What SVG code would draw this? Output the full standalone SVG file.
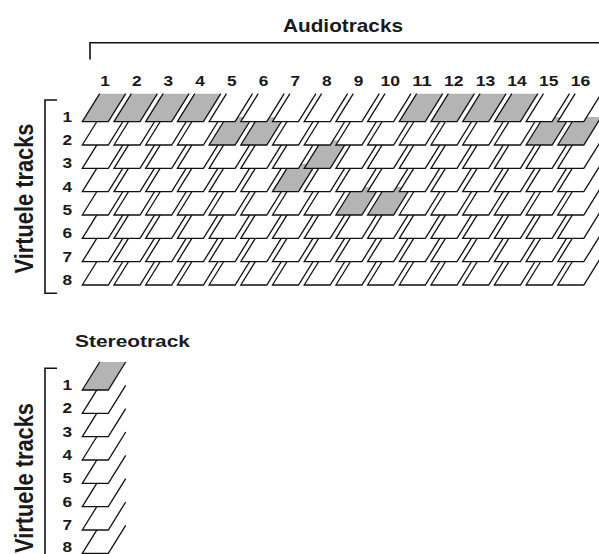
<svg xmlns="http://www.w3.org/2000/svg" xmlns:xlink="http://www.w3.org/1999/xlink" width="599" height="554" viewBox="0 0 599 554">
<style>
  text { font-family: "Liberation Sans", Arial, Helvetica, sans-serif; font-weight: bold; fill: #1a1a1a; }
  .head { font-size: 18.5px; }
  .vhead { font-size: 26px; }
  .num { font-size: 15.5px; text-anchor: middle; }
  .w { fill: #ffffff; stroke: #111; stroke-width: 1.3; stroke-linejoin: miter; }
  .g { fill: #b4b4b4; stroke: #111; stroke-width: 1.3; stroke-linejoin: miter; }
  .br { fill: none; stroke: #111; stroke-width: 1.6; }
</style>
<defs>
  <path id="card" d="M17.4,-28 L0,0 L26,0 L43.4,-28"/>
</defs>
<rect width="599" height="554" fill="#ffffff"/>

<g id="connectors">
  <path class="br" d="M90,59.5 V42.7 H599"/>
  <path class="br" d="M57,100 H45 V293.3 H57"/>
  <path class="br" d="M57,368.3 H45 V554"/>
</g>

<g id="title-audiotracks">
  <text class="head" x="343" y="31.7" text-anchor="middle" textLength="120" lengthAdjust="spacingAndGlyphs">Audiotracks</text>
</g>
<g id="label-virtual-top">
  <text class="vhead" transform="translate(32.5,198.5) rotate(-90)" text-anchor="middle" textLength="150" lengthAdjust="spacingAndGlyphs">Virtuele tracks</text>
</g>

<g id="column-labels">
  <text class="num" x="105" y="85.5" textLength="9.6" lengthAdjust="spacingAndGlyphs">1</text>
  <text class="num" x="136.7" y="85.5" textLength="9.6" lengthAdjust="spacingAndGlyphs">2</text>
  <text class="num" x="168.4" y="85.5" textLength="9.6" lengthAdjust="spacingAndGlyphs">3</text>
  <text class="num" x="200.1" y="85.5" textLength="9.6" lengthAdjust="spacingAndGlyphs">4</text>
  <text class="num" x="231.8" y="85.5" textLength="9.6" lengthAdjust="spacingAndGlyphs">5</text>
  <text class="num" x="263.5" y="85.5" textLength="9.6" lengthAdjust="spacingAndGlyphs">6</text>
  <text class="num" x="295.2" y="85.5" textLength="9.6" lengthAdjust="spacingAndGlyphs">7</text>
  <text class="num" x="326.9" y="85.5" textLength="9.6" lengthAdjust="spacingAndGlyphs">8</text>
  <text class="num" x="358.6" y="85.5" textLength="9.6" lengthAdjust="spacingAndGlyphs">9</text>
  <text class="num" x="390.3" y="85.5" textLength="19.5" lengthAdjust="spacingAndGlyphs">10</text>
  <text class="num" x="422" y="85.5" textLength="19.5" lengthAdjust="spacingAndGlyphs">11</text>
  <text class="num" x="453.7" y="85.5" textLength="19.5" lengthAdjust="spacingAndGlyphs">12</text>
  <text class="num" x="485.4" y="85.5" textLength="19.5" lengthAdjust="spacingAndGlyphs">13</text>
  <text class="num" x="517.1" y="85.5" textLength="19.5" lengthAdjust="spacingAndGlyphs">14</text>
  <text class="num" x="548.8" y="85.5" textLength="19.5" lengthAdjust="spacingAndGlyphs">15</text>
  <text class="num" x="580.5" y="85.5" textLength="19.5" lengthAdjust="spacingAndGlyphs">16</text>
</g>

<g id="row-labels">
  <text class="num" x="67.3" y="121.7" textLength="9.6" lengthAdjust="spacingAndGlyphs">1</text>
  <text class="num" x="67.3" y="145" textLength="9.6" lengthAdjust="spacingAndGlyphs">2</text>
  <text class="num" x="67.3" y="168.4" textLength="9.6" lengthAdjust="spacingAndGlyphs">3</text>
  <text class="num" x="67.3" y="191.7" textLength="9.6" lengthAdjust="spacingAndGlyphs">4</text>
  <text class="num" x="67.3" y="215" textLength="9.6" lengthAdjust="spacingAndGlyphs">5</text>
  <text class="num" x="67.3" y="238.3" textLength="9.6" lengthAdjust="spacingAndGlyphs">6</text>
  <text class="num" x="67.3" y="261.7" textLength="9.6" lengthAdjust="spacingAndGlyphs">7</text>
  <text class="num" x="67.3" y="285" textLength="9.6" lengthAdjust="spacingAndGlyphs">8</text>
</g>

<g id="row8">
  <use xlink:href="#card" class="w" x="82.3" y="285"/><use xlink:href="#card" class="w" x="114" y="285"/><use xlink:href="#card" class="w" x="145.7" y="285"/><use xlink:href="#card" class="w" x="177.4" y="285"/><use xlink:href="#card" class="w" x="209.1" y="285"/><use xlink:href="#card" class="w" x="240.8" y="285"/><use xlink:href="#card" class="w" x="272.5" y="285"/><use xlink:href="#card" class="w" x="304.2" y="285"/><use xlink:href="#card" class="w" x="335.9" y="285"/><use xlink:href="#card" class="w" x="367.6" y="285"/><use xlink:href="#card" class="w" x="399.3" y="285"/><use xlink:href="#card" class="w" x="431" y="285"/><use xlink:href="#card" class="w" x="462.7" y="285"/><use xlink:href="#card" class="w" x="494.4" y="285"/><use xlink:href="#card" class="w" x="526.1" y="285"/><use xlink:href="#card" class="w" x="557.8" y="285"/>
</g>
<g id="row7">
  <use xlink:href="#card" class="w" x="82.3" y="261.7"/><use xlink:href="#card" class="w" x="114" y="261.7"/><use xlink:href="#card" class="w" x="145.7" y="261.7"/><use xlink:href="#card" class="w" x="177.4" y="261.7"/><use xlink:href="#card" class="w" x="209.1" y="261.7"/><use xlink:href="#card" class="w" x="240.8" y="261.7"/><use xlink:href="#card" class="w" x="272.5" y="261.7"/><use xlink:href="#card" class="w" x="304.2" y="261.7"/><use xlink:href="#card" class="w" x="335.9" y="261.7"/><use xlink:href="#card" class="w" x="367.6" y="261.7"/><use xlink:href="#card" class="w" x="399.3" y="261.7"/><use xlink:href="#card" class="w" x="431" y="261.7"/><use xlink:href="#card" class="w" x="462.7" y="261.7"/><use xlink:href="#card" class="w" x="494.4" y="261.7"/><use xlink:href="#card" class="w" x="526.1" y="261.7"/><use xlink:href="#card" class="w" x="557.8" y="261.7"/>
</g>
<g id="row6">
  <use xlink:href="#card" class="w" x="82.3" y="238.3"/><use xlink:href="#card" class="w" x="114" y="238.3"/><use xlink:href="#card" class="w" x="145.7" y="238.3"/><use xlink:href="#card" class="w" x="177.4" y="238.3"/><use xlink:href="#card" class="w" x="209.1" y="238.3"/><use xlink:href="#card" class="w" x="240.8" y="238.3"/><use xlink:href="#card" class="w" x="272.5" y="238.3"/><use xlink:href="#card" class="w" x="304.2" y="238.3"/><use xlink:href="#card" class="w" x="335.9" y="238.3"/><use xlink:href="#card" class="w" x="367.6" y="238.3"/><use xlink:href="#card" class="w" x="399.3" y="238.3"/><use xlink:href="#card" class="w" x="431" y="238.3"/><use xlink:href="#card" class="w" x="462.7" y="238.3"/><use xlink:href="#card" class="w" x="494.4" y="238.3"/><use xlink:href="#card" class="w" x="526.1" y="238.3"/><use xlink:href="#card" class="w" x="557.8" y="238.3"/>
</g>
<g id="row5">
  <use xlink:href="#card" class="w" x="82.3" y="215"/><use xlink:href="#card" class="w" x="114" y="215"/><use xlink:href="#card" class="w" x="145.7" y="215"/><use xlink:href="#card" class="w" x="177.4" y="215"/><use xlink:href="#card" class="w" x="209.1" y="215"/><use xlink:href="#card" class="w" x="240.8" y="215"/><use xlink:href="#card" class="w" x="272.5" y="215"/><use xlink:href="#card" class="w" x="304.2" y="215"/><use xlink:href="#card" class="g" x="335.9" y="215"/><use xlink:href="#card" class="g" x="367.6" y="215"/><use xlink:href="#card" class="w" x="399.3" y="215"/><use xlink:href="#card" class="w" x="431" y="215"/><use xlink:href="#card" class="w" x="462.7" y="215"/><use xlink:href="#card" class="w" x="494.4" y="215"/><use xlink:href="#card" class="w" x="526.1" y="215"/><use xlink:href="#card" class="w" x="557.8" y="215"/>
</g>
<g id="row4">
  <use xlink:href="#card" class="w" x="82.3" y="191.7"/><use xlink:href="#card" class="w" x="114" y="191.7"/><use xlink:href="#card" class="w" x="145.7" y="191.7"/><use xlink:href="#card" class="w" x="177.4" y="191.7"/><use xlink:href="#card" class="w" x="209.1" y="191.7"/><use xlink:href="#card" class="w" x="240.8" y="191.7"/><use xlink:href="#card" class="g" x="272.5" y="191.7"/><use xlink:href="#card" class="w" x="304.2" y="191.7"/><use xlink:href="#card" class="w" x="335.9" y="191.7"/><use xlink:href="#card" class="w" x="367.6" y="191.7"/><use xlink:href="#card" class="w" x="399.3" y="191.7"/><use xlink:href="#card" class="w" x="431" y="191.7"/><use xlink:href="#card" class="w" x="462.7" y="191.7"/><use xlink:href="#card" class="w" x="494.4" y="191.7"/><use xlink:href="#card" class="w" x="526.1" y="191.7"/><use xlink:href="#card" class="w" x="557.8" y="191.7"/>
</g>
<g id="row3">
  <use xlink:href="#card" class="w" x="82.3" y="168.4"/><use xlink:href="#card" class="w" x="114" y="168.4"/><use xlink:href="#card" class="w" x="145.7" y="168.4"/><use xlink:href="#card" class="w" x="177.4" y="168.4"/><use xlink:href="#card" class="w" x="209.1" y="168.4"/><use xlink:href="#card" class="w" x="240.8" y="168.4"/><use xlink:href="#card" class="w" x="272.5" y="168.4"/><use xlink:href="#card" class="g" x="304.2" y="168.4"/><use xlink:href="#card" class="w" x="335.9" y="168.4"/><use xlink:href="#card" class="w" x="367.6" y="168.4"/><use xlink:href="#card" class="w" x="399.3" y="168.4"/><use xlink:href="#card" class="w" x="431" y="168.4"/><use xlink:href="#card" class="w" x="462.7" y="168.4"/><use xlink:href="#card" class="w" x="494.4" y="168.4"/><use xlink:href="#card" class="w" x="526.1" y="168.4"/><use xlink:href="#card" class="w" x="557.8" y="168.4"/>
</g>
<g id="row2">
  <use xlink:href="#card" class="w" x="82.3" y="145"/><use xlink:href="#card" class="w" x="114" y="145"/><use xlink:href="#card" class="w" x="145.7" y="145"/><use xlink:href="#card" class="w" x="177.4" y="145"/><use xlink:href="#card" class="g" x="209.1" y="145"/><use xlink:href="#card" class="g" x="240.8" y="145"/><use xlink:href="#card" class="w" x="272.5" y="145"/><use xlink:href="#card" class="w" x="304.2" y="145"/><use xlink:href="#card" class="w" x="335.9" y="145"/><use xlink:href="#card" class="w" x="367.6" y="145"/><use xlink:href="#card" class="w" x="399.3" y="145"/><use xlink:href="#card" class="w" x="431" y="145"/><use xlink:href="#card" class="w" x="462.7" y="145"/><use xlink:href="#card" class="w" x="494.4" y="145"/><use xlink:href="#card" class="g" x="526.1" y="145"/><use xlink:href="#card" class="g" x="557.8" y="145"/>
</g>
<g id="row1">
  <use xlink:href="#card" class="g" x="82.3" y="121.7"/><use xlink:href="#card" class="g" x="114" y="121.7"/><use xlink:href="#card" class="g" x="145.7" y="121.7"/><use xlink:href="#card" class="g" x="177.4" y="121.7"/><use xlink:href="#card" class="w" x="209.1" y="121.7"/><use xlink:href="#card" class="w" x="240.8" y="121.7"/><use xlink:href="#card" class="w" x="272.5" y="121.7"/><use xlink:href="#card" class="w" x="304.2" y="121.7"/><use xlink:href="#card" class="w" x="335.9" y="121.7"/><use xlink:href="#card" class="w" x="367.6" y="121.7"/><use xlink:href="#card" class="g" x="399.3" y="121.7"/><use xlink:href="#card" class="g" x="431" y="121.7"/><use xlink:href="#card" class="g" x="462.7" y="121.7"/><use xlink:href="#card" class="g" x="494.4" y="121.7"/><use xlink:href="#card" class="w" x="526.1" y="121.7"/><use xlink:href="#card" class="w" x="557.8" y="121.7"/>
</g>

<g id="title-stereotrack">
  <text class="head" style="font-size:17px" x="132.5" y="346.7" text-anchor="middle" textLength="115" lengthAdjust="spacingAndGlyphs">Stereotrack</text>
</g>
<g id="label-virtual-bottom">
  <text class="vhead" transform="translate(32.5,478) rotate(-90)" text-anchor="middle" textLength="150" lengthAdjust="spacingAndGlyphs">Virtuele tracks</text>
</g>
<g id="stereo-row-labels">
  <text class="num" x="67.3" y="390" textLength="9.6" lengthAdjust="spacingAndGlyphs">1</text>
  <text class="num" x="67.3" y="413.3" textLength="9.6" lengthAdjust="spacingAndGlyphs">2</text>
  <text class="num" x="67.3" y="436.7" textLength="9.6" lengthAdjust="spacingAndGlyphs">3</text>
  <text class="num" x="67.3" y="460" textLength="9.6" lengthAdjust="spacingAndGlyphs">4</text>
  <text class="num" x="67.3" y="483.3" textLength="9.6" lengthAdjust="spacingAndGlyphs">5</text>
  <text class="num" x="67.3" y="506.7" textLength="9.6" lengthAdjust="spacingAndGlyphs">6</text>
  <text class="num" x="67.3" y="530" textLength="9.6" lengthAdjust="spacingAndGlyphs">7</text>
  <text class="num" x="67.3" y="552" textLength="9.6" lengthAdjust="spacingAndGlyphs">8</text>
</g>
<g id="stereo-stack">
  <use xlink:href="#card" class="w" x="82.3" y="553.3"/>
  <use xlink:href="#card" class="w" x="82.3" y="530"/>
  <use xlink:href="#card" class="w" x="82.3" y="506.7"/>
  <use xlink:href="#card" class="w" x="82.3" y="483.3"/>
  <use xlink:href="#card" class="w" x="82.3" y="460"/>
  <use xlink:href="#card" class="w" x="82.3" y="436.7"/>
  <use xlink:href="#card" class="w" x="82.3" y="413.3"/>
  <use xlink:href="#card" class="g" x="82.3" y="390"/>
</g>
</svg>
